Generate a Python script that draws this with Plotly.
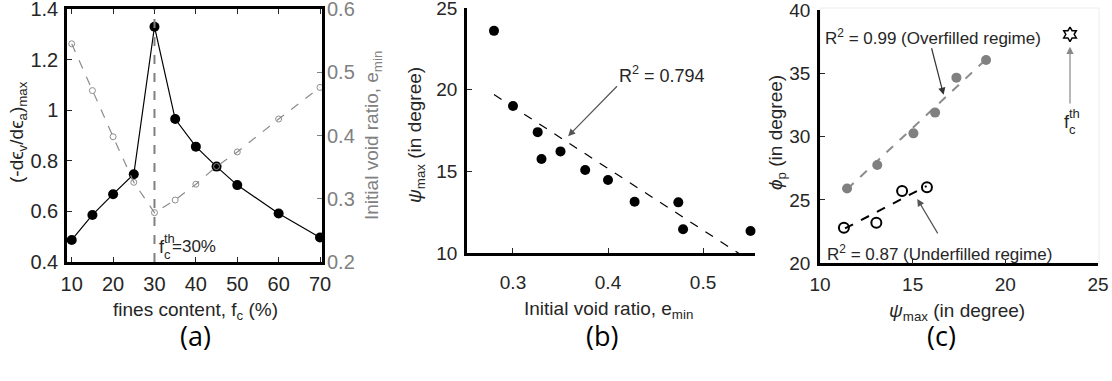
import plotly.graph_objects as go

W, H = 1112, 381

# ---- panel (a): dilatancy and void ratio against fines content ----
fc = [10, 15, 20, 25, 30, 35, 40, 45, 50, 60, 70]
dil_max = [0.487, 0.586, 0.668, 0.747, 1.33, 0.965, 0.856, 0.777, 0.704, 0.592, 0.497]
e_min_a = [0.545, 0.471, 0.398, 0.326, 0.278, 0.298, 0.323, 0.351, 0.374, 0.426, 0.476]
fc_threshold = 30

# ---- panel (b): peak dilation angle against initial void ratio ----
e_min_b = [0.28, 0.30, 0.326, 0.33, 0.35, 0.376, 0.40, 0.428, 0.474, 0.479, 0.55]
psi_b = [23.6, 19.0, 17.4, 15.76, 16.22, 15.08, 14.47, 13.14, 13.1, 11.45, 11.35]
fit_b_x = [0.28, 0.545]
fit_b_y = [19.7, 9.7]

# ---- panel (c): peak friction angle against peak dilation angle ----
psi_over = [11.46, 13.09, 15.04, 16.21, 17.36, 18.96]
phi_over = [25.9, 27.76, 30.26, 31.9, 34.66, 36.05]
fit_over_x = [11.46, 18.96]
fit_over_y = [25.85, 36.1]
psi_under = [11.29, 13.04, 14.43, 15.77]
phi_under = [22.8, 23.2, 25.7, 26.0]
fit_under_x = [11.35, 15.75]
fit_under_y = [22.75, 26.1]
psi_th = [23.49]
phi_th = [38.08]


def px_x(p):
    return p / W


def px_y(p):
    return 1 - p / H


FONT = "Liberation Sans"
TXT = "#262626"
GRAY = "#808080"
TICK = 20
TITLE = 19

fig = go.Figure()

# (a) traces
fig.add_trace(go.Scatter(
    x=fc, y=dil_max, mode="lines+markers", xaxis="x", yaxis="y",
    line=dict(color="black", width=1.2),
    marker=dict(symbol="circle", size=10, color="black"),
    cliponaxis=False, showlegend=False))
fig.add_trace(go.Scatter(
    x=fc, y=e_min_a, mode="lines+markers", xaxis="x", yaxis="y2",
    line=dict(color="#8c8c8c", width=1.2, dash="dash"),
    marker=dict(symbol="circle-open", size=6, color="#8c8c8c", line=dict(width=1)),
    cliponaxis=False, showlegend=False))

# (b) traces
fig.add_trace(go.Scatter(
    x=fit_b_x, y=fit_b_y, mode="lines", xaxis="x3", yaxis="y3",
    line=dict(color="black", width=1.2, dash="dash"), showlegend=False))
fig.add_trace(go.Scatter(
    x=e_min_b, y=psi_b, mode="markers", xaxis="x3", yaxis="y3",
    marker=dict(symbol="circle", size=10, color="black"),
    cliponaxis=False, showlegend=False))

# (c) traces
fig.add_trace(go.Scatter(
    x=fit_over_x, y=fit_over_y, mode="lines", xaxis="x4", yaxis="y4",
    line=dict(color="#8c8c8c", width=2, dash="dash"), showlegend=False))
fig.add_trace(go.Scatter(
    x=psi_over, y=phi_over, mode="markers", xaxis="x4", yaxis="y4",
    marker=dict(symbol="circle", size=10, color="#808080"), showlegend=False))
fig.add_trace(go.Scatter(
    x=fit_under_x, y=fit_under_y, mode="lines", xaxis="x4", yaxis="y4",
    line=dict(color="black", width=2, dash="dash"), showlegend=False))
fig.add_trace(go.Scatter(
    x=psi_under, y=phi_under, mode="markers", xaxis="x4", yaxis="y4",
    marker=dict(symbol="circle-open", size=10, color="black", line=dict(width=2)),
    showlegend=False))
fig.add_trace(go.Scatter(
    x=psi_th, y=phi_th, mode="markers", xaxis="x4", yaxis="y4",
    marker=dict(symbol="hexagram-open", size=11, color="black", line=dict(width=1.5)),
    cliponaxis=False, showlegend=False))

tick_common = dict(ticks="inside", ticklen=5, tickwidth=1, tickcolor="#262626",
                   showgrid=False, zeroline=False, showline=True, linewidth=2.5,
                   linecolor="black", ticklabeloverflow="allow", automargin=False)

fig.update_layout(
    width=W, height=H, margin=dict(l=0, r=0, t=0, b=0, autoexpand=False),
    paper_bgcolor="white", plot_bgcolor="white",
    font=dict(family=FONT, color=TXT, size=TITLE),
    xaxis=dict(domain=[px_x(67), px_x(322)], range=[8.86, 70.48],
               tickvals=[10, 20, 30, 40, 50, 60, 70], mirror="ticks",
               anchor="y", ticklabelstandoff=2, tickfont=dict(size=TICK), **tick_common),
    yaxis=dict(domain=[px_y(262), px_y(9)], range=[0.4, 1.4],
               tickvals=[0.4, 0.6, 0.8, 1.0, 1.2, 1.4],
               ticktext=["0.4", "0.6", "0.8", "1", "1.2", "1.4"],
               mirror=True, anchor="x", ticklabelstandoff=2,
               tickfont=dict(size=TICK), **tick_common),
    yaxis2=dict(domain=[px_y(262), px_y(9)], range=[0.2, 0.6], overlaying="y",
                side="right", anchor="x", ticks="inside", ticklen=5,
                tickcolor=GRAY, tickvals=[0.2, 0.3, 0.4, 0.5, 0.6],
                showgrid=False, zeroline=False, showline=False, ticklabelstandoff=4,
                ticklabeloverflow="allow", automargin=False,
                tickfont=dict(size=TICK, color=GRAY)),
    xaxis3=dict(domain=[px_x(467), px_x(755)], range=[0.2516, 0.5547],
                tickvals=[0.3, 0.4, 0.5], anchor="y3", ticklabelstandoff=10,
                tickfont=dict(size=TICK - 1), **tick_common),
    yaxis3=dict(domain=[px_y(253), px_y(8)], range=[10, 25],
                tickvals=[10, 15, 20, 25], anchor="x3", ticklabelstandoff=3,
                tickfont=dict(size=TICK - 1), **tick_common),
    xaxis4=dict(domain=[px_x(820), px_x(1098)], range=[10, 25],
                tickvals=[10, 15, 20, 25], anchor="y4", ticklabelstandoff=2,
                tickfont=dict(size=TICK - 1), **tick_common),
    yaxis4=dict(domain=[px_y(263.3), px_y(10)], range=[20, 40],
                tickvals=[20, 25, 30, 35, 40], anchor="x4", ticklabelstandoff=3,
                tickfont=dict(size=TICK - 1), **tick_common),
)

# threshold line in (a)
fig.add_shape(type="line", xref="x", yref="y", x0=fc_threshold, x1=fc_threshold,
              y0=0.4, y1=1.4, line=dict(color=GRAY, width=2, dash="dash"))

# faint frame around (c)
fig.add_shape(type="rect", xref="paper", yref="paper",
              x0=px_x(820), x1=px_x(1099), y0=px_y(263.3), y1=px_y(8),
              line=dict(color="#ececec", width=1), layer="below")

ann = []


def text(x, y, s, size=TITLE, color=TXT, xref="paper", yref="paper", angle=0,
         xanchor="center", yanchor="middle", xshift=0, yshift=0):
    ann.append(dict(x=x, y=y, xref=xref, yref=yref, text=s, showarrow=False,
                    textangle=angle, xanchor=xanchor, yanchor=yanchor,
                    xshift=xshift, yshift=yshift,
                    font=dict(size=size, color=color, family=FONT)))


def arrow(x, y, ax, ay, xr, yr, color="#555555"):
    ann.append(dict(x=x, y=y, ax=ax, ay=ay, xref=xr, yref=yr, axref=xr, ayref=yr,
                    text="", showarrow=True, arrowhead=2, arrowsize=1.2,
                    arrowwidth=1.2, arrowcolor=color))


# panel (a) titles
text(px_x(18), px_y(132), "(-d\u03f5<sub>v</sub>/d\u03f5<sub>a</sub>)<sub>max</sub>",
     angle=-90)
text(px_x(373), px_y(136), "Initial void ratio, e<sub>min</sub>", color=GRAY, angle=-90)
text(px_x(196), px_y(311), "fines content, f<sub>c</sub> (%)")
# f_c^th = 30% label in (a)
text(30.6, 0.46, "f", xref="x", yref="y", xanchor="left", size=18)
text(30.6, 0.46, "th", xref="x", yref="y", xanchor="left", size=13, xshift=5, yshift=8)
text(30.6, 0.46, "c", xref="x", yref="y", xanchor="left", size=13, xshift=5, yshift=-8)
text(30.6, 0.46, "=30%", xref="x", yref="y", xanchor="left", size=17, xshift=13)

# panel (b) titles
text(px_x(416), px_y(135), "<i>\u03c8</i><sub>max</sub> (in degree)", angle=-90)
text(px_x(608), px_y(310), "Initial void ratio, e<sub>min</sub>")
text(0.457, 20.9, "R<sup>2</sup> = 0.794", xref="x3", yref="y3", size=18)
arrow(0.358, 17.15, 0.411, 20.3, "x3", "y3")

# panel (c) titles
text(px_x(777), px_y(133), "<i>\u03d5</i><sub>p</sub> (in degree)", angle=-90)
text(px_x(957), px_y(312), "<i>\u03c8</i><sub>max</sub> (in degree)")
text(16.09, 37.9, "R<sup>2</sup> = 0.99 (Overfilled regime)", xref="x4", yref="y4", size=17)
arrow(16.67, 33.3, 16.0, 37.1, "x4", "y4", color="#333333")
text(16.45, 20.8, "R<sup>2</sup> = 0.87 (Underfilled regime)", xref="x4", yref="y4", size=17)
arrow(15.25, 25.08, 16.4, 22.24, "x4", "y4")
arrow(23.49, 37.1, 23.49, 32.5, "x4", "y4", color="#888888")
text(23.49, 31.16, "f", xref="x4", yref="y4", xanchor="left", size=18, xshift=-8)
text(23.49, 31.16, "th", xref="x4", yref="y4", xanchor="left", size=13, xshift=-3, yshift=8)
text(23.49, 31.16, "c", xref="x4", yref="y4", xanchor="left", size=13, xshift=-3, yshift=-8)

# panel letters
for cx, lab in [(178, "(a)"), (602, "(b)"), (958, "(c)")]:
    ann.append(dict(x=px_x(cx), y=px_y(356), xref="paper", yref="paper", text=lab,
                    showarrow=False, font=dict(size=27, color="black", family="Open Sans")))

fig.update_layout(annotations=ann)
fig.write_html("out.html")
